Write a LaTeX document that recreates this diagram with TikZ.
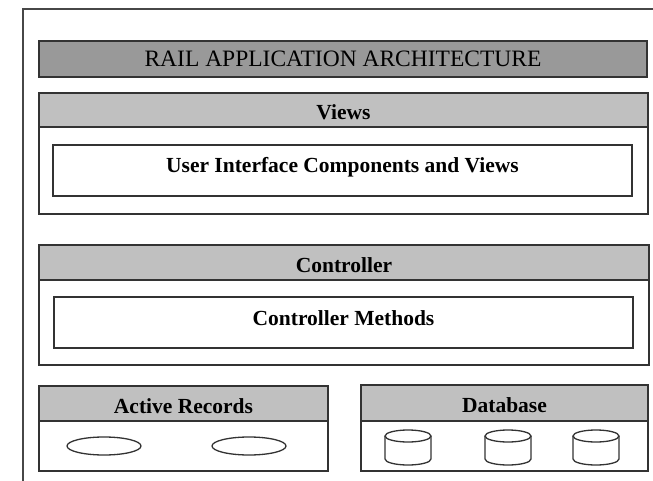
\documentclass[tikz,border=0pt]{standalone}
\usepackage{fontspec}
\setmainfont{Liberation Serif}
\definecolor{edge}{HTML}{333333}
\definecolor{titlefill}{HTML}{999999}
\definecolor{headfill}{HTML}{C0C0C0}
\tikzset{
  box/.style={draw=edge, line width=1.6pt, inner sep=0pt, fill=white},
  titlebox/.style={box, fill=titlefill},
  headbox/.style={box, fill=headfill},
  titletext/.style={anchor=base, inner sep=0pt, font=\fontsize{23.5}{26}\selectfont},
  labeltext/.style={anchor=base, inner sep=0pt, font=\fontsize{21.5}{24}\selectfont\bfseries},
  rec/.style={ellipse, draw=edge, line width=1.3pt, inner sep=0pt, minimum width=74pt, minimum height=18pt},
  cylline/.style={draw=edge, line width=1.3pt, fill=white},
  dbcyl/.pic={
    \coordinate (-c) at (0,0);
    \path[cylline] (-23,-11.5) -- (-23,11.5) arc (180:0:23 and 6) -- (23,-11.5);
    \path[cylline] (0,-11.5) ellipse (23 and 6);
  }
}
\usetikzlibrary{shapes.geometric}
\begin{document}
\begin{tikzpicture}[x=1pt,y=-1pt]
\useasboundingbox (0,0) rectangle (653,481);
% outer frame
\coordinate (fr) at (653,9);
\coordinate (fc) at (23,9);
\coordinate (fb) at (23,481);
\draw[draw=edge!90, line width=1.5pt] (fr) -- (fc) -- (fb);
% title
\node[titlebox, minimum width=608pt, minimum height=36pt] (title) at (343,59) {};
\node[titletext] (titlet) at (343,67) {RAIL APPLICATION ARCHITECTURE};
% views
\node[box, minimum width=609pt, minimum height=121pt] (views) at (343.5,153.5) {};
\node[headbox, minimum width=609pt, minimum height=34pt] (viewshead) at (343.5,110) {};
\node[labeltext] (viewst) at (343.5,120) {Views};
\node[box, minimum width=579pt, minimum height=51pt] (ui) at (342.5,170.5) {};
\node[labeltext] (uit) at (342.5,173) {User Interface Components and Views};
% controller
\node[box, minimum width=610pt, minimum height=120pt] (ctrl) at (344,305) {};
\node[headbox, minimum width=610pt, minimum height=35pt] (ctrlhead) at (344,262.5) {};
\node[labeltext] (ctrlt) at (344,272) {Controller};
\node[box, minimum width=579pt, minimum height=51pt] (cm) at (343.5,322.5) {};
\node[labeltext] (cmt) at (343.5,325) {Controller Methods};
% active records
\node[box, minimum width=289pt, minimum height=85pt] (ar) at (183.5,428.5) {};
\node[headbox, minimum width=289pt, minimum height=35pt] (arhead) at (183.5,403.5) {};
\node[labeltext] (art) at (183.5,413) {Active Records};
\node[rec] (r1) at (104,446) {};
\node[rec] (r2) at (249,446) {};
% database
\node[box, minimum width=287pt, minimum height=86pt] (dbb) at (504.5,428) {};
\node[headbox, minimum width=287pt, minimum height=36pt] (dbhead) at (504.5,403) {};
\node[labeltext] (dbt) at (504.5,412.5) {Database};
\pic (d1) at (408,447.5) {dbcyl};
\pic (d2) at (508,447.5) {dbcyl};
\pic (d3) at (596,447.5) {dbcyl};
\end{tikzpicture}
\end{document}
